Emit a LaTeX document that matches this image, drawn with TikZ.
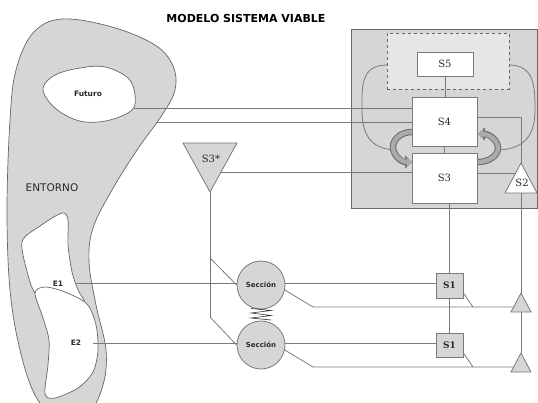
\documentclass[tikz,border=0pt]{standalone}
\usepackage{fontspec}
\setmainfont{DejaVu Serif}
\newfontfamily\vsans{DejaVu Sans}
\usetikzlibrary{arrows.meta,calc}
\definecolor{fillg}{HTML}{D6D6D6}
\definecolor{lineg}{HTML}{7A7A7A}
\definecolor{edgeg}{HTML}{666666}
\definecolor{lightg}{HTML}{E6E6E6}
\definecolor{txt}{HTML}{2A2A2A}
\definecolor{ringdark}{HTML}{707070}
\definecolor{ringlight}{HTML}{ABABAB}
\begin{document}
\begin{tikzpicture}[x=1pt,y=-1pt,
  conn/.style={draw=lineg, line width=0.8pt},
  blob/.style={draw=edgeg, line width=0.7pt},
  sbox/.style={draw=lineg, line width=0.8pt, fill=white, rectangle, inner sep=0pt, font=\fontsize{10}{12}\selectfont, text=txt},
  sone/.style={draw=lineg, line width=0.8pt, fill=fillg, rectangle, minimum width=27pt, minimum height=25pt, inner sep=0pt, font=\bfseries\fontsize{9}{11}\selectfont, text=txt},
  secc/.style={circle, draw=lineg, line width=0.8pt, fill=fillg, minimum size=48pt, inner sep=0pt, font=\vsans\bfseries\fontsize{7}{8}\selectfont, text=txt},
  tri/.style={draw=lineg, line width=0.8pt, fill=fillg, line join=round},
  lbl/.style={inner sep=0pt, text=txt},
  ringo/.style={draw=ringdark, line width=6.5pt, -{Triangle[length=7pt,width=13pt]}},
  ringi/.style={draw=ringlight, line width=4.3pt, -{Triangle[length=5.3pt,width=9.5pt]}}
]
\useasboundingbox (0,0) rectangle (538,403);

% ---------- ENTORNO ----------
\draw[blob, fill=fillg] plot[smooth cycle, tension=0.6] coordinates {
  (62,19) (112,27) (155,45) (173,66) (175,90) (162,115) (137,150) (112,190)
  (93,228) (89,262) (96,305) (106,350) (103,385) (88,412) (55,415) (35,395)
  (20,350) (10,290) (7,210) (10,120) (16,70) (33,33)};
\draw[blob, fill=white] plot[smooth cycle, tension=0.6] coordinates {
  (43,88) (55,75) (80,68) (105,67) (128,78) (135,95) (132,110) (110,120)
  (85,122) (65,115) (50,103)};
\draw[blob, fill=white] plot[smooth cycle, tension=0.5] coordinates {
  (22,242) (40,226) (62,213) (68,220) (68,245) (72,272) (78,290) (84,302)
  (62,292) (42,288) (35,293) (28,275)};
\draw[blob, fill=white] plot[smooth cycle, tension=0.5] coordinates {
  (35,293) (45,287) (65,292) (87,304) (96,325) (98,350) (93,372) (78,388)
  (55,398) (45,394) (48,365) (49,340) (43,318)};

\node[lbl, font=\vsans\fontsize{10.5}{12}\selectfont] (entorno) at (52,188) {ENTORNO};
\node[lbl, font=\vsans\bfseries\fontsize{7.5}{9}\selectfont] (futuro) at (88,94) {Futuro};
\node[lbl, font=\vsans\bfseries\fontsize{7.5}{9}\selectfont] (e1) at (58,284) {E1};
\node[lbl, font=\vsans\bfseries\fontsize{7.5}{9}\selectfont] (e2) at (76,343) {E2};

% ---------- title ----------
\node[lbl, font=\vsans\bfseries\fontsize{11}{13}\selectfont, text=black] (title) at (246,18) {MODELO SISTEMA VIABLE};

% ---------- system box ----------
\node[draw=edgeg, line width=0.8pt, fill=fillg, minimum width=186pt, minimum height=179pt, inner sep=0pt] (sysbox) at (444,118.5) {};
\node[draw=edgeg, dashed, line width=0.6pt, fill=lightg, minimum width=122pt, minimum height=56pt, inner sep=0pt] (s5area) at (448,61) {};

\coordinate (cl0) at (387,65);
\coordinate (cl1) at (396,150);
\coordinate (cr0) at (509,65);
\coordinate (cr1) at (498,150);
\draw[conn] (cl0) .. controls (360,65) and (362,88) .. (362,110) .. controls (362,140) and (375,149) .. (cl1);
\draw[conn] (cr0) .. controls (535,65) and (535,88) .. (535,110) .. controls (535,140) and (520,149) .. (cr1);

\draw[ringo] (412,132) arc[start angle=-90, end angle=-270, x radius=19, y radius=15];
\draw[ringi] (412,132) arc[start angle=-90, end angle=-270, x radius=19, y radius=15];
\draw[ringo] (478,162) arc[start angle=90, end angle=-90, x radius=20, y radius=14];
\draw[ringi] (478,162) arc[start angle=90, end angle=-90, x radius=20, y radius=14];

\node[sbox, minimum width=56pt, minimum height=24pt] (s5) at (445,64) {S5};
\node[sbox, minimum width=65pt, minimum height=49pt] (s4) at (444.5,121.5) {S4};
\node[sbox, minimum width=65pt, minimum height=50pt] (s3) at (444.5,178) {S3};

% ---------- S1 boxes and Sección ----------
\node[sone] (s1a) at (449.5,285.5) {S1};
\node[sone, minimum height=24pt] (s1b) at (449.5,345) {S1};
\node[secc] (sec1) at (261,285) {Sección};
\node[secc] (sec2) at (261,345) {Sección};
\draw[black!80, line width=0.6pt] (251,308.5) -- (271,310.5) -- (251,313) -- (271,315.5) -- (251,318) -- (271,320);

% ---------- triangles ----------
\coordinate (t3a) at (210,192);
\coordinate (t3l) at (183,143);
\coordinate (t3r0) at (237,143);
\draw[tri] (t3l) -- (t3r0) -- (t3a) -- cycle;
\node[lbl, font=\fontsize{10}{12}\selectfont] (s3star) at (211,159) {S3*};

\coordinate (s2top) at (521,163);
\coordinate (s2bl) at (505,193);
\coordinate (s2br) at (537,193);
\coordinate (s2b) at (521,193);
\draw[tri, fill=white] (s2top) -- (s2br) -- (s2bl) -- cycle;
\node[lbl, font=\fontsize{10}{12}\selectfont] (s2) at (522,183) {S2};

\coordinate (t1a) at (521,293);
\coordinate (t1bl) at (511,312);
\coordinate (t1br) at (531,312);
\coordinate (t1b) at (521,312);
\draw[tri] (t1a) -- (t1br) -- (t1bl) -- cycle;
\coordinate (t2a) at (521,353);
\coordinate (t2bl) at (511,372);
\coordinate (t2br) at (531,372);
\draw[tri] (t2a) -- (t2br) -- (t2bl) -- cycle;

% ---------- connectors ----------
\coordinate (futR) at (134,108);
\draw[conn] (futR) -- (futR -| s4.west);
\coordinate (entR) at (157,122);
\draw[conn] (entR) -- (entR -| s4.west);
\coordinate (k1) at (521,117);
\draw[conn] (s4.east |- k1) -- (k1) -- (s2top);
\coordinate (s2l) at ($(s2top)!1/3!(s2bl)$);
\draw[conn] (s3.east |- s2l) -- (s2l);
\coordinate (t3r) at ($(t3r0)!29/49!(t3a)$);
\draw[conn] (t3r) -- (t3r -| s3.west);
\draw[conn] (s5.south) -- (s5.south |- s4.north);
\draw[conn] (s4.south) -- (s3.north);
\draw[conn] (s1a.north |- s3.south) -- (s1a.north);
\draw[conn] (s1a.south) -- (s1b.north);
\draw[conn] (s2b) -- (t1a);
\draw[conn] (t1b) -- (t2a);

\coordinate (v1) at (210,258);
\coordinate (v2) at (210,317);
\draw[conn] (t3a) -- (v2);
\draw[conn] (v1) -- (sec1.west);
\draw[conn] (v2) -- (sec2.west);

\coordinate (e1r) at (75,283);
\coordinate (e2r) at (93,343);
\draw[conn] (e1r) -- (e1r -| sec1.west);
\draw[conn] (e2r) -- (e2r -| sec2.west);
\draw[conn] (sec1.east |- e1r) -- (s1a.west |- e1r);
\draw[conn] (sec2.east |- e2r) -- (s1b.west |- e2r);

\coordinate (d1) at (313,307);
\coordinate (t1l) at ($(t1a)!14/19!(t1bl)$);
\draw[conn] (sec1.-12) -- (d1) -- (t1l);
\coordinate (d2) at (313,367);
\coordinate (t2l) at ($(t2a)!14/19!(t2bl)$);
\draw[conn] (sec2.-12) -- (d2) -- (t2l);
\coordinate (tk1) at (473,307);
\coordinate (tk2) at (473,367);
\draw[conn] ($(s1a.east)+(0,7.5)$) -- (tk1);
\draw[conn] ($(s1b.east)+(0,8)$) -- (tk2);
\end{tikzpicture}
\end{document}
